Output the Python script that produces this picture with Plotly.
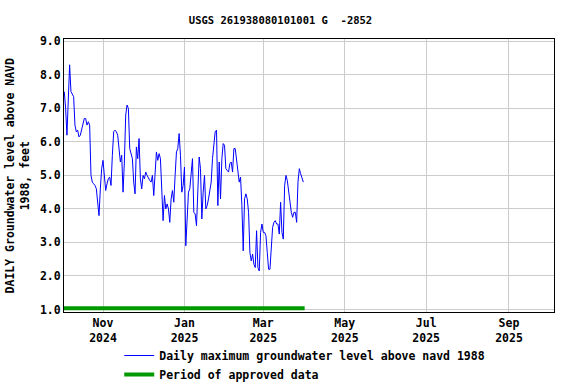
import plotly.graph_objects as go
import pandas as pd

start_date = "2024-10-03"
levels = [
    7.5, 7.0, 6.2, 7.6, 8.3, 7.5, 7.4, 7.35, 6.5, 6.3,
    6.35, 6.15, 6.2, 6.4, 6.6, 6.7, 6.7, 6.5, 6.6, 6.5,
    5.0, 4.8, 4.75, 4.7, 4.6, 4.25, 3.8, 4.6, 5.2, 5.45,
    4.9, 4.55, 4.75, 4.9, 4.95, 4.7, 5.6, 6.3, 6.35, 6.3,
    6.2, 5.85, 5.4, 5.6, 4.5, 5.4, 6.8, 7.1, 7.0, 5.8,
    5.6, 5.5, 4.8, 4.45, 5.85, 5.5, 6.1, 4.9, 4.6, 5.0,
    4.9, 5.1, 5.0, 4.9, 4.85, 4.8, 5.0, 4.4, 4.95, 5.7,
    5.45, 5.65, 5.5, 4.5, 3.65, 4.4, 4.0, 4.15, 4.0, 3.6,
    4.3, 4.55, 4.2, 5.0, 5.7, 5.8, 6.25, 5.6, 4.5, 4.7,
    5.25, 2.9, 3.9, 4.5, 4.6, 5.1, 5.5, 3.9, 3.85, 3.5,
    4.6, 5.55, 5.2, 3.7, 4.5, 5.0, 4.0, 4.1, 4.3, 4.5,
    4.8, 5.5, 6.0, 6.3, 6.35, 4.1, 5.4, 4.3, 5.5, 5.95,
    5.9, 5.2, 5.15, 5.1, 5.35, 5.4, 5.1, 5.8, 5.8, 5.4,
    5.0, 4.8, 4.95, 4.1, 2.75, 4.3, 4.45, 4.3, 3.9, 2.7,
    2.45, 2.65, 2.35, 2.25, 3.35, 2.25, 2.15, 3.3, 3.55, 3.3,
    3.3, 3.2, 2.7, 2.2, 2.2, 2.95, 3.45, 3.6, 3.65, 3.55,
    3.55, 3.25, 4.2, 3.3, 3.1, 4.7, 5.0, 4.85, 4.5, 4.25,
    3.9, 3.75, 3.9, 3.9, 3.6, 4.8, 5.2, 5.05, 4.9, 4.8,
]
dates = pd.date_range(start_date, periods=len(levels), freq="D")

approved_dates = ["2024-10-01", "2025-04-01"]
approved_level = [1.04, 1.04]

title_text = "USGS 261938080101001 G  -2852"
y_title = "DAILY Groundwater level above NAVD<br>1988, feet"
x_range = ["2024-10-02 19:00", "2025-10-04 17:00"]
y_range = [0.925, 9.07]

font_family = "DejaVu Sans Mono"

fig = go.Figure()
fig.add_trace(go.Scatter(
    x=dates, y=levels, mode="lines",
    line=dict(color="#0000FF", width=1),
    name="Daily maximum groundwater level above navd 1988",
))
fig.add_trace(go.Scatter(
    x=approved_dates, y=approved_level, mode="lines",
    line=dict(color="#009900", width=4),
    name="Period of approved data",
))

fig.update_layout(
    width=576, height=384,
    margin=dict(l=64, r=22, t=39, b=72, autoexpand=False),
    paper_bgcolor="white", plot_bgcolor="white",
    font=dict(family=font_family, size=11.5, color="black", weight="bold"),
    title=dict(text=title_text, x=0.487, xanchor="center",
               y=0.948, yanchor="middle", font=dict(size=10.5, weight="bold")),
    showlegend=True,
    legend=dict(xref="container", yref="container",
                x=0.207, xanchor="left", y=0.112, yanchor="top",
                font=dict(size=11.5, weight="bold"), bgcolor="rgba(0,0,0,0)",
                tracegroupgap=0),
)
fig.add_annotation(
    text=y_title, xref="paper", yref="paper", x=-0.094, y=0.5,
    xanchor="center", yanchor="middle", textangle=-90, showarrow=False,
    font=dict(size=11.5, weight="bold"),
)
fig.update_xaxes(
    type="date", range=x_range, automargin=False,
    tick0="2024-11-01", dtick="M2", tickformat="%b<br>%Y",
    showgrid=True, gridcolor="#cccccc", gridwidth=1,
    showline=True, linecolor="black", linewidth=1, mirror=True,
    ticks="", zeroline=False,
)
fig.update_yaxes(
    range=y_range, tick0=1.0, dtick=1.0, tickformat=".1f", automargin=False,
    showgrid=True, gridcolor="#cccccc", gridwidth=1,
    showline=True, linecolor="black", linewidth=1, mirror=True,
    ticks="", zeroline=False,
)

fig.write_html("out.html")
